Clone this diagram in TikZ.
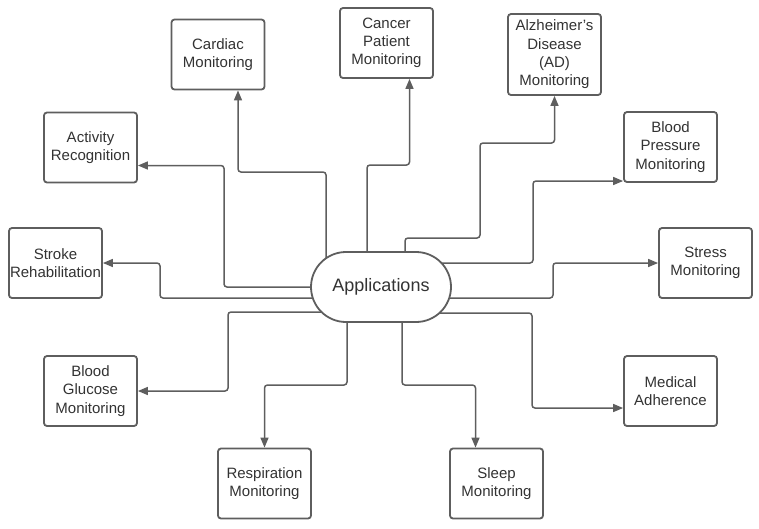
\documentclass[tikz,border=0pt]{standalone}
\usepackage{fontspec}
\setmainfont{Liberation Sans}
\usetikzlibrary{arrows.meta,calc,backgrounds}
\definecolor{lc}{HTML}{5E5E5E}
\definecolor{tc}{HTML}{333333}
\begin{document}
\begin{tikzpicture}[x=1pt,y=-1pt,
  box/.style={draw=lc,line width=1.8pt,rounded corners=3pt,fill=white,minimum width=93pt,minimum height=70pt,inner sep=0pt,align=center,text=tc,font=\fontsize{15}{18.3}\selectfont},
  appbox/.style={draw=lc,line width=1.8pt,rounded corners=35pt,fill=white,minimum width=140pt,minimum height=70pt,inner sep=0pt,text=tc,font=\fontsize{18}{22}\selectfont},
  conn/.style={draw=lc,line width=1.5pt,rounded corners=3pt,-{Triangle[length=10pt,width=8pt]}}]
\useasboundingbox (0,0) rectangle (759,528);
\node[appbox] (app) at (381,287) {Applications};
\node[box] (cardiac) at (218,54.5) {Cardiac\\Monitoring};
\node[box] (cancer) at (386.5,43) {Cancer\\Patient\\Monitoring};
\node[box,minimum height=81pt] (alz) at (554.5,54.5) {Alzheimer’s\\Disease\\(AD)\\Monitoring};
\node[box] (bp) at (670.5,147) {Blood\\Pressure\\Monitoring};
\node[box] (act) at (90.5,147.5) {Activity\\Recognition};
\node[box] (stroke) at (55.5,263) {Stroke\\Rehabilitation};
\node[box] (stress) at (705.5,263) {Stress\\Monitoring};
\node[box] (gluc) at (90.5,391) {Blood\\Glucose\\Monitoring};
\node[box] (med) at (670.5,391) {Medical\\Adherence};
\node[box] (resp) at (264.5,483.5) {Respiration\\Monitoring};
\node[box] (sleep) at (496.5,483.5) {Sleep\\Monitoring};
\begin{scope}[on background layer]
\draw[conn] ($(app.center)+(-55,0)$) -- ++(0,-115) -| ([xshift=20pt]cardiac.south);
\draw[conn] ($(app.center)+(-14,0)$) -- ++(0,-122) -| ([xshift=23pt]cancer.south);
\draw[conn] ($(app.center)+(24,0)$) -- ++(0,-49) -- ++(75,0) -- ++(0,-95) -| (alz.south);
\draw[conn] ($(app.center)+(0,-24)$) -- ++(152,0) |- ([yshift=-34pt]bp.west);
\draw[conn] ($(app.center)+(0,11)$) -- ++(172,0) |- (stress.west);
\draw[conn] ($(app.center)+(0,26)$) -- ++(151,0) |- ([yshift=-17pt]med.west);
\draw[conn] ($(app.center)+(21,0)$) -- ++(0,98) -| ([xshift=-21pt]sleep.north);
\draw[conn] ($(app.center)+(-34,0)$) -- ++(0,98) -| (resp.north);
\draw[conn] ($(app.center)+(0,25)$) -- ++(-153,0) |- (gluc.east);
\draw[conn] ($(app.center)+(0,11)$) -- ++(-221,0) |- (stroke.east);
\draw[conn] (app.center) -- ++(-157,0) |- ([yshift=-18pt]act.east);
\end{scope}
\end{tikzpicture}
\end{document}
